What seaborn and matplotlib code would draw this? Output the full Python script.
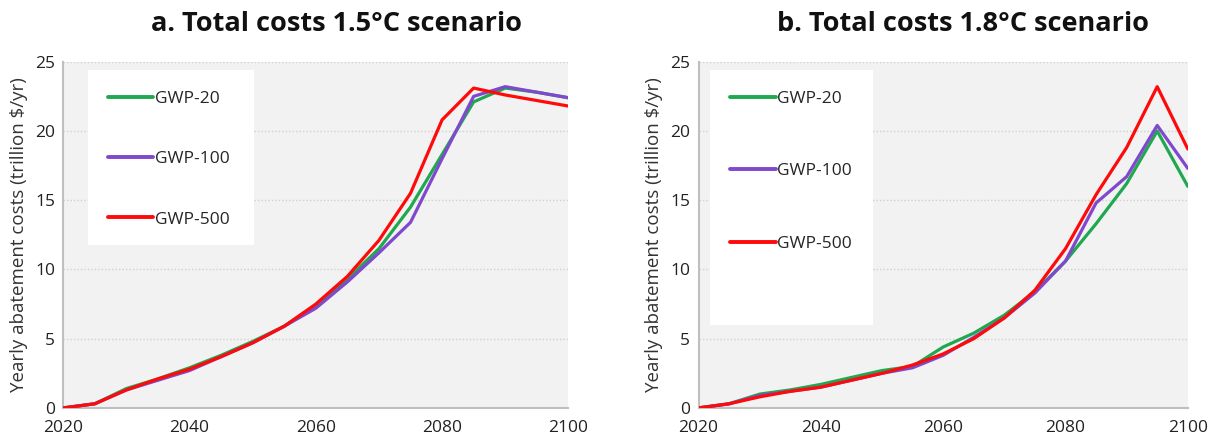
import numpy as np
import pandas as pd
import matplotlib
matplotlib.use("Agg")
import matplotlib.pyplot as plt
from matplotlib.patches import Rectangle
import seaborn as sns

# values (trillion $/yr)
years = list(range(2020, 2101, 5))

a_gwp20 = [0, 0.3, 1.4, 2.1, 2.9, 3.8, 4.8, 5.9, 7.4, 9.3, 11.5, 14.5, 18.3, 22.1, 23.1, 22.8, 22.4]
a_gwp100 = [0, 0.3, 1.3, 2.0, 2.7, 3.7, 4.7, 5.9, 7.2, 9.1, 11.2, 13.4, 18.0, 22.5, 23.2, 22.8, 22.4]
a_gwp500 = [0, 0.3, 1.3, 2.1, 2.8, 3.7, 4.7, 5.9, 7.5, 9.5, 12.1, 15.5, 20.8, 23.1, 22.6, 22.2, 21.8]

b_gwp20 = [0, 0.3, 1.0, 1.3, 1.7, 2.2, 2.7, 3.0, 4.4, 5.4, 6.7, 8.4, 10.6, 13.3, 16.2, 20.0, 16.0]
b_gwp100 = [0, 0.3, 0.9, 1.2, 1.5, 2.0, 2.5, 2.9, 3.8, 5.1, 6.5, 8.3, 10.6, 14.8, 16.7, 20.4, 17.3]
b_gwp500 = [0, 0.3, 0.8, 1.2, 1.5, 2.0, 2.5, 3.1, 3.9, 5.0, 6.5, 8.5, 11.5, 15.4, 18.8, 23.2, 18.7]

series_names = ["GWP-20", "GWP-100", "GWP-500"]
titles = ["a. Total costs 1.5\u00b0C scenario", "b. Total costs 1.8\u00b0C scenario"]
palette = {"GWP-20": "#1fa84f", "GWP-100": "#8048cc", "GWP-500": "#ff0a0a"}


def make_df(s20, s100, s500):
    parts = []
    for name, vals in zip(series_names, [s20, s100, s500]):
        parts.append(pd.DataFrame({"year": years, "cost": vals, "series": name}))
    return pd.concat(parts, ignore_index=True)


df_a = make_df(a_gwp20, a_gwp100, a_gwp500)
df_b = make_df(b_gwp20, b_gwp100, b_gwp500)

sns.set_theme(style="white")
plt.rcParams["font.family"] = ["Open Sans", "DejaVu Sans"]

fig = plt.figure(figsize=(12.17, 4.41), dpi=100)
ax_a = fig.add_axes([0.052, 0.075, 0.415, 0.785])
ax_b = fig.add_axes([0.574, 0.075, 0.402, 0.785])

# (axes, data, title, legend spacing, legend box x / width / bottom in axes fraction)
panels = [
    (ax_a, df_a, titles[0], 2.55, 0.048, 0.329, 0.471),
    (ax_b, df_b, titles[1], 3.25, 0.0225, 0.335, 0.24),
]
for ax, df, title, lspace, bx, bw, bb in panels:
    ax.set_facecolor("#f2f2f2")
    for yv in range(5, 26, 5):
        ax.axhline(yv, color="#d0d0d0", lw=1, ls=(0, (1, 1.5)), zorder=0)
    ax.add_patch(Rectangle((bx, bb), bw, 0.977 - bb, transform=ax.transAxes,
                           facecolor="white", edgecolor="none", zorder=1))
    sns.lineplot(data=df, x="year", y="cost", hue="series", palette=palette,
                 hue_order=series_names, lw=2.3, ax=ax, zorder=3)
    ax.set_xlim(2020, 2100)
    ax.set_ylim(0, 25)
    ax.set_xticks(range(2020, 2101, 20))
    ax.set_yticks(range(0, 26, 5))
    ax.tick_params(axis="x", labelsize=12.5, length=0, pad=9, colors="#222222")
    ax.tick_params(axis="y", labelsize=12.5, length=0, pad=6, colors="#222222")
    for side in ["top", "right"]:
        ax.spines[side].set_visible(False)
    for side in ["left", "bottom"]:
        ax.spines[side].set_color("#bfbfbf")
        ax.spines[side].set_linewidth(1.5)
    ax.set_xlabel("")
    ax.set_ylabel("Yearly abatement costs (trillion $/yr)", fontsize=13.5,
                  color="#333333", labelpad=5)
    ax.set_title(title, fontsize=19.5, fontweight="bold", x=0.54, pad=22,
                 color="#111111")
    leg = ax.legend(loc="upper left", bbox_to_anchor=(bx, 0.977), frameon=False,
                    fontsize=12.5, handlelength=2.6, handletextpad=0.1,
                    labelspacing=lspace, borderpad=1.2, borderaxespad=0)
    leg.set_zorder(2)
    for line in leg.get_lines():
        line.set_linewidth(2.8)

fig.savefig("out.png", dpi=100)
